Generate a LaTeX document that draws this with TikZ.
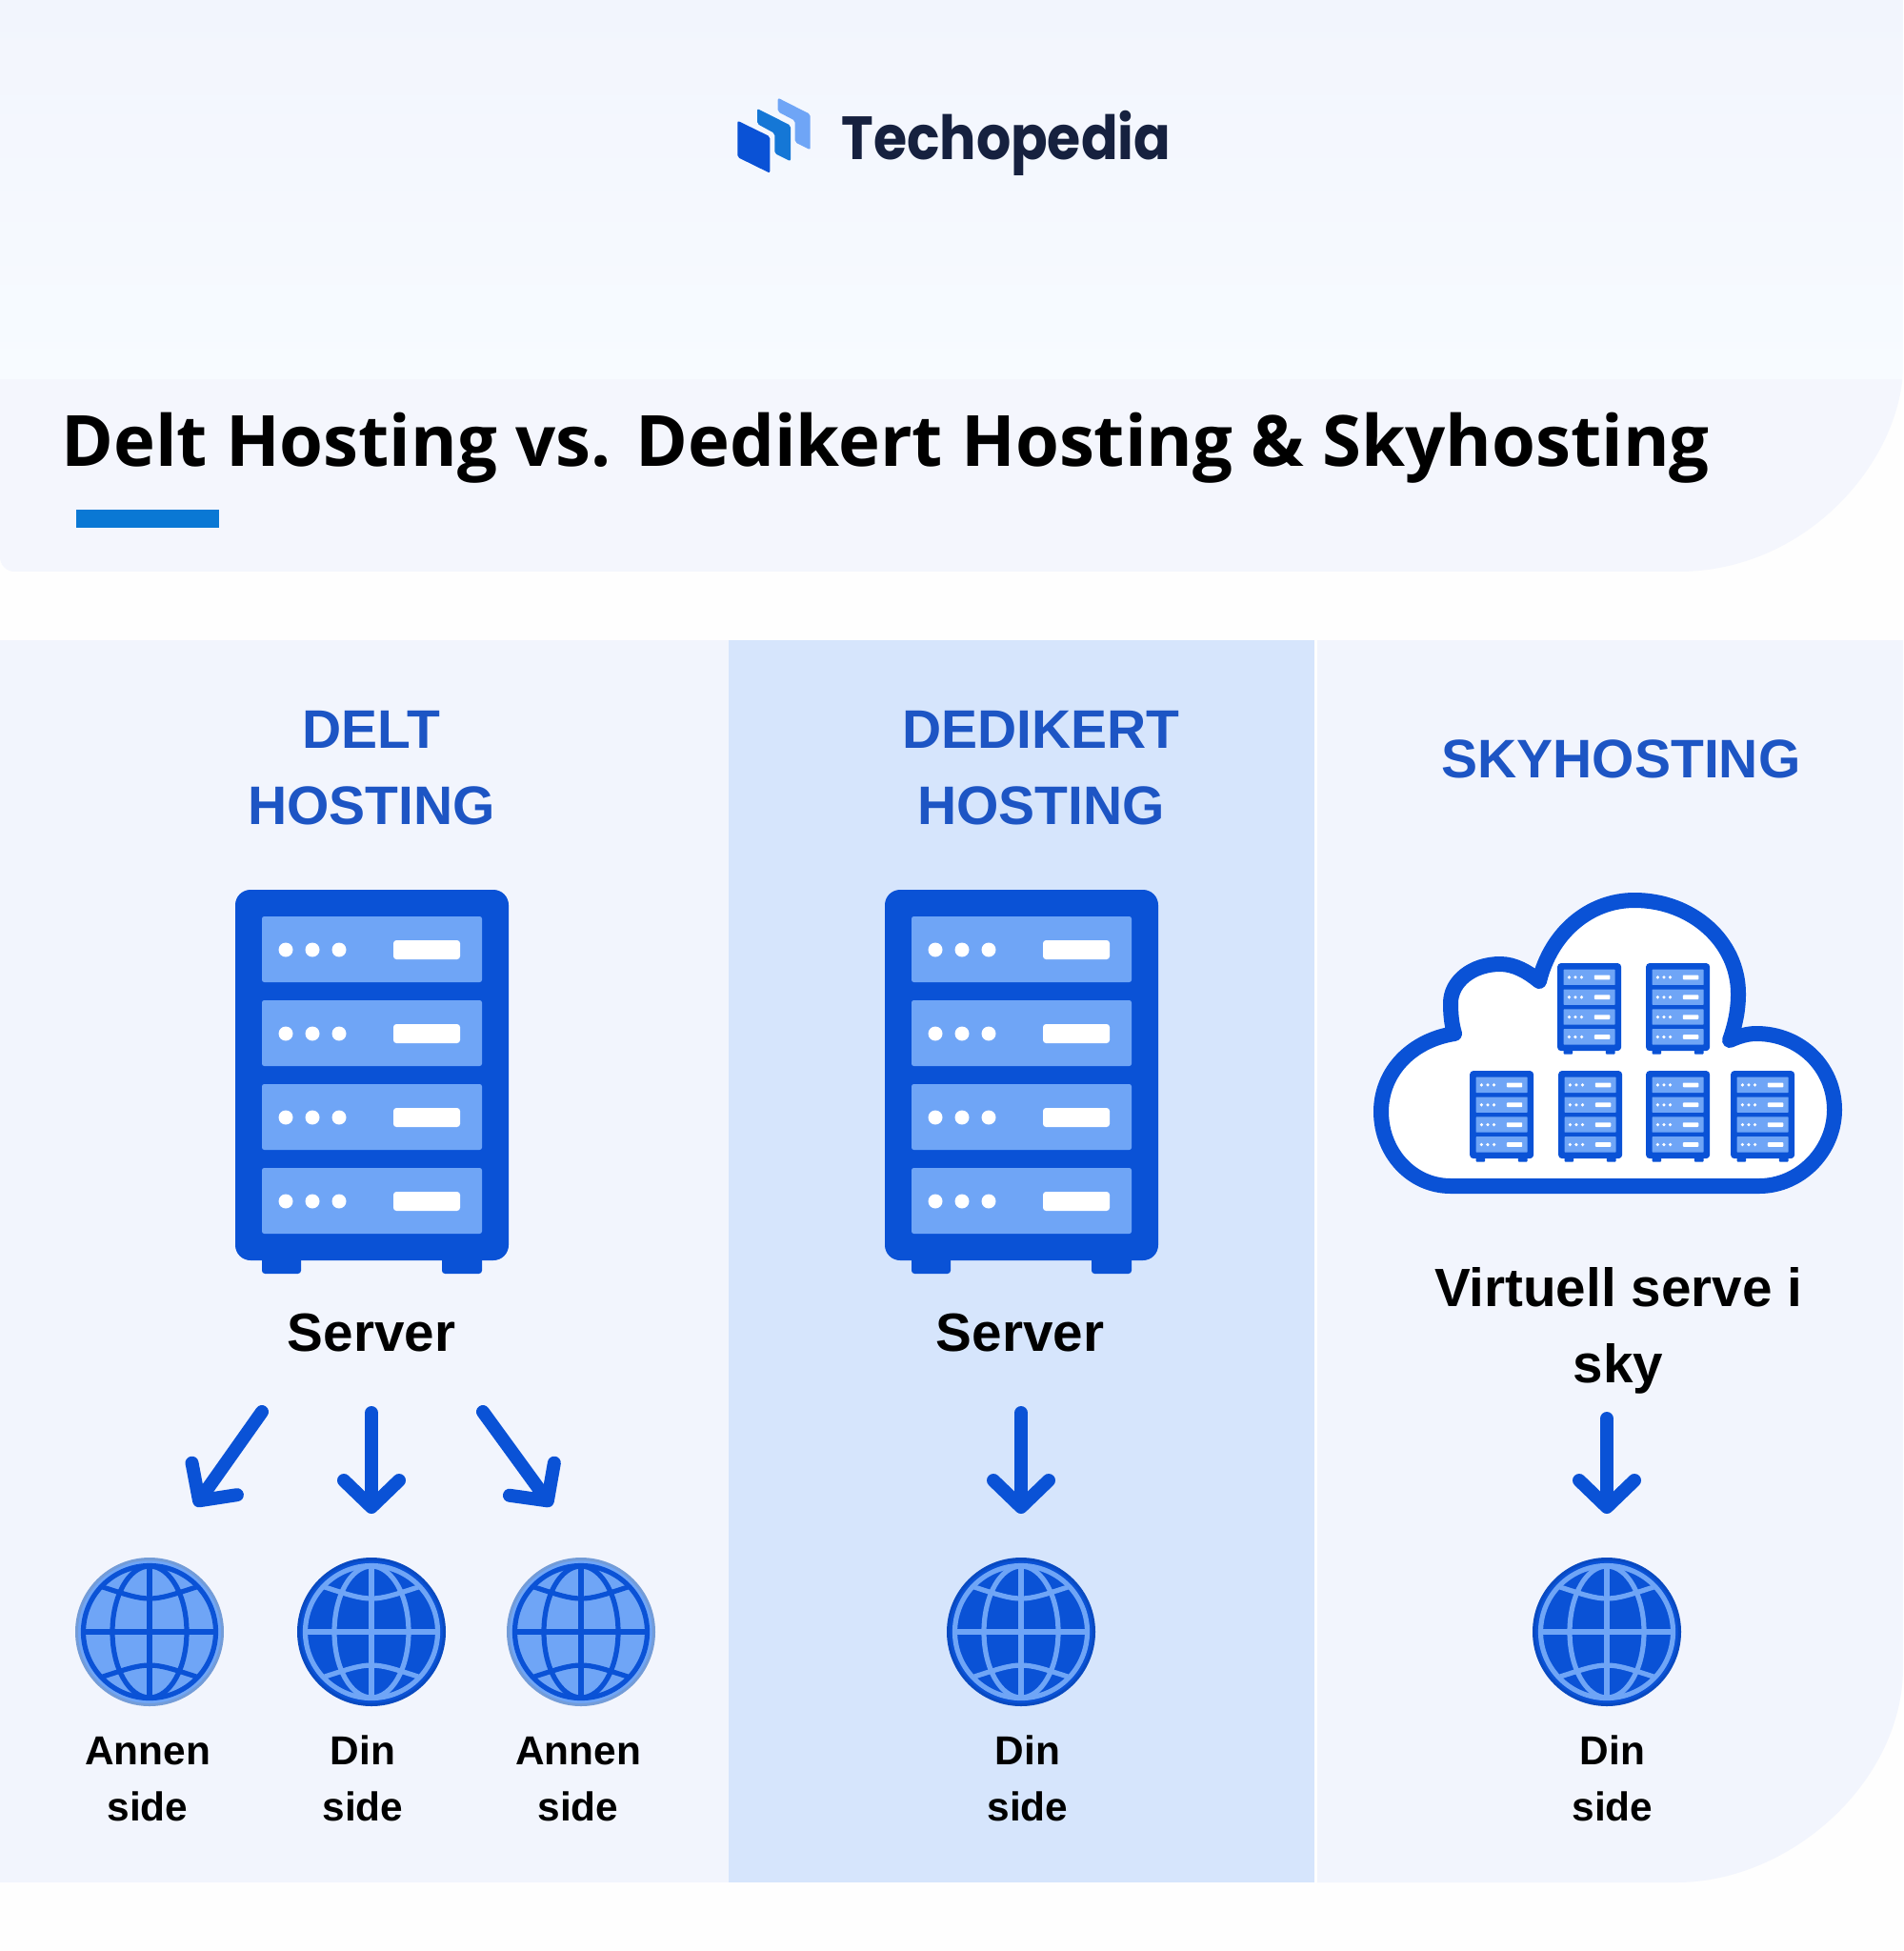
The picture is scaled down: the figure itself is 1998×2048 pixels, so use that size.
\documentclass[tikz,border=0pt]{standalone}
\usepackage{fontspec}
\setmainfont{Liberation Sans}
\newfontfamily\titlefont{Open Sans}
\newfontfamily\logofont{Poppins}
\usepackage{tikz}
\usetikzlibrary{arrows.meta}
\definecolor{rackblue}{HTML}{0A52D6}
\definecolor{slotblue}{HTML}{6FA5F6}
\definecolor{headblue}{HTML}{1D55C4}
\definecolor{paleblue}{HTML}{F2F5FD}
\definecolor{midcol}{HTML}{D6E5FC}
\definecolor{panelcol}{HTML}{F4F6FD}
\definecolor{skyfade}{HTML}{F7FBFF}
\definecolor{pagecol}{HTML}{FEFEFE}
\definecolor{logoink}{HTML}{16213F}
\definecolor{logomid}{HTML}{1577D6}
\definecolor{barblue}{HTML}{0A78D4}
\tikzset{
  heading/.style={font=\fontsize{28.5}{40}\selectfont\bfseries, text=headblue, align=center, inner sep=0pt},
  bigtext/.style={font=\fontsize{28.3}{40}\selectfont\bfseries, text=black, align=center, inner sep=0pt},
  sitetext/.style={font=\fontsize{21.2}{29.5}\selectfont\bfseries, text=black, align=center, inner sep=0pt},
  globe/.style={circle, inner sep=0pt, minimum size=76.5pt},
  flow/.style={color=rackblue, line width=7pt, line cap=round, -{Straight Barb[round, length=14pt, width=29pt]}},
  rack/.pic={
    \fill[rackblue, rounded corners=0.4*#1] (28,370) rectangle (69,403);
    \fill[rackblue, rounded corners=0.4*#1] (217,370) rectangle (259,403);
    \fill[rackblue, rounded corners=2*#1] (0,0) rectangle (287,389);
    \foreach \yy in {28,116,204,292} {
      \fill[slotblue, rounded corners=0.3*#1] (28,\yy) rectangle (259,\yy+69);
      \foreach \xx in {53,81,109}
        \fill[white] (\xx,\yy+35) circle [radius=7.5];
      \fill[white, rounded corners=0.4*#1] (166,\yy+25) rectangle (236,\yy+45);
    }
  },
  gridlines/.pic={
    \draw[#1, line width=2.6pt] (0,0) circle [radius=69.5];
    \draw[#1, line width=2.6pt] (0,0) circle [x radius=39, y radius=69];
    \draw[#1, line width=2.6pt] (0,-69) -- (0,69) (-69,0) -- (69,0);
    \draw[#1, line width=2.6pt] (-49,-47) .. controls (0,-31) .. (49,-47);
    \draw[#1, line width=2.6pt] (-49,47) .. controls (0,31) .. (49,47);
  },
}
\begin{document}
\begin{tikzpicture}[x=0.5pt, y=-0.5pt]
  \useasboundingbox (0,0) rectangle (1998,2048);
  \fill[pagecol] (0,0) rectangle (1998,2048);

  \begin{scope}
    \clip (0,0) -- (1998,0) -- (1998,383) .. controls (1998,480) and (1900,600) .. (1762,600)
      -- (15,600) .. controls (7,600) and (0,593) .. (0,585) -- cycle;
    \shade[top color=paleblue, bottom color=skyfade] (0,0) rectangle (1998,398);
    \fill[panelcol] (0,398) rectangle (1998,600);
  \end{scope}

  \fill[paleblue] (0,672) rectangle (765,1976);
  \fill[midcol] (765,672) rectangle (1380,1976);
  \fill[paleblue] (1383,672) -- (1998,672) -- (1998,1750)
    .. controls (1998,1870) and (1880,1976) .. (1760,1976) -- (1383,1976) -- cycle;

  \fill[rackblue, rounded corners=1pt] (774.3,126.7) -- (808.3,143.3) -- (808.3,181.7) -- (774.3,165) -- cycle;
  \fill[logomid, rounded corners=1pt] (795,114) -- (830,131.7) -- (830,169.3) -- (813.3,161)
    -- (813.3,140) -- (795,130) -- cycle;
  \fill[slotblue, rounded corners=1pt] (816.7,102.7) -- (850.7,120) -- (850.7,157.3) -- (834.7,149.3)
    -- (834.7,126.7) -- (816.7,117.3) -- cycle;
  \node[anchor=base west, inner sep=0pt, text=logoink, font=\logofont\bfseries\fontsize{32}{32}\selectfont]
    (logo) at (883,168) {\scalebox{0.89}[1]{Techopedia}};

  \node[anchor=base west, inner sep=0pt, font=\titlefont\bfseries\fontsize{37.1}{37.1}\selectfont]
    (title) at (64,489) {Delt Hosting vs. Dedikert Hosting \& Skyhosting};
  \fill[barblue] (80,535) rectangle (230,554);

  \node[heading] (hdelt) at (390,806) {DELT\\HOSTING};
  \node[heading] (hdedi) at (1093,806) {DEDIKERT\\HOSTING};
  \node[heading] (hsky) at (1702,797) {SKYHOSTING};

  \pic at (247,934) {rack=4pt};
  \pic at (929,934) {rack=4pt};

  \draw[rackblue, line width=8pt, line join=round, fill=white]
    (1523,1245) -- (1847,1245) .. controls (1890,1245) and (1926,1208) .. (1926,1165)
    .. controls (1926,1120) and (1890,1085) .. (1844,1085)
    .. controls (1834,1085) and (1825,1088) .. (1816,1092)
    .. controls (1822,1075) and (1825,1060) .. (1825,1043)
    .. controls (1825,988) and (1776,945) .. (1716,945)
    .. controls (1668,945) and (1628,980) .. (1616,1030)
    .. controls (1604,1020) and (1590,1012) .. (1575,1012)
    .. controls (1546,1012) and (1523,1030) .. (1523,1053)
    .. controls (1523,1065) and (1524,1075) .. (1527,1085)
    .. controls (1482,1092) and (1450,1125) .. (1450,1167)
    .. controls (1450,1210) and (1482,1245) .. (1523,1245) -- cycle;
  \foreach \px/\py in {1635/1011, 1728/1011, 1543/1124, 1636/1124, 1728/1124, 1817/1124}
    \pic[xscale=0.234, yscale=0.237] at (\px,\py) {rack=1pt};

  \node[bigtext] (srv1) at (390,1399) {Server};
  \node[bigtext] (srv2) at (1071,1399) {Server};
  \node[bigtext] (srv3) at (1699,1397) {Virtuell serve i\\sky};

  \foreach \nm/\cx/\bg/\ln/\rim in {glob1/157/slotblue/rackblue/slotblue!75!gray,
      glob2/390/rackblue/slotblue/rackblue!90!black, glob3/610/slotblue/rackblue/slotblue!75!gray,
      glob4/1072/rackblue/slotblue/rackblue!90!black, glob5/1687/rackblue/slotblue/rackblue!90!black} {
    \node[globe, fill=\bg, draw=\rim, line width=1.5pt] (\nm) at (\cx,1713) {};
    \pic at (\nm) {gridlines=\ln};
  }

  \coordinate (tail1) at (275,1482);
  \coordinate (tip1) at (205,1581);
  \coordinate (tail3) at (507,1482);
  \coordinate (tip3) at (579,1581);
  \coordinate (tail2) at (390,1483);
  \coordinate (tail4) at (1072,1483);
  \coordinate (tail5) at (1687,1489);
  \path[flow] (tail1) edge (tip1)
    (tail3) edge (tip3)
    (tail2) edge[shorten >=23pt] (glob2)
    (tail4) edge[shorten >=23pt] (glob4)
    (tail5) edge[shorten >=23pt] (glob5);

  \node[sitetext] (site1) at (155,1868) {Annen\\side};
  \node[sitetext] (site2) at (381,1867) {Din\\side};
  \node[sitetext] (site3) at (607,1868) {Annen\\side};
  \node[sitetext] (site4) at (1079,1867) {Din\\side};
  \node[sitetext] (site5) at (1693,1867) {Din\\side};
\end{tikzpicture}
\end{document}
